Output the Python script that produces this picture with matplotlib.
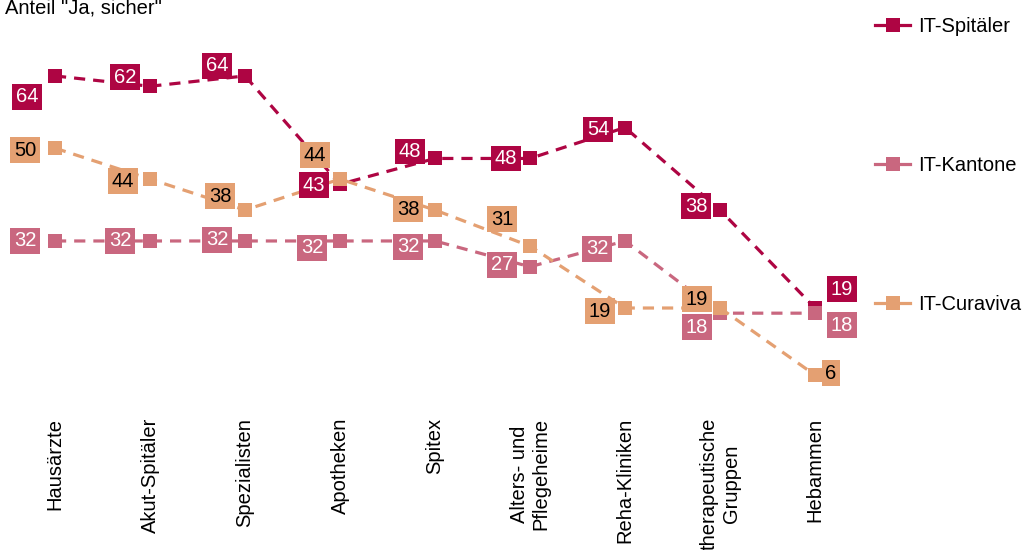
import matplotlib.pyplot as plt
from matplotlib.lines import Line2D

plt.rcParams['font.family'] = ['Liberation Sans', 'DejaVu Sans']

# Data
categories = ["Hausärzte", "Akut-Spitäler", "Spezialisten", "Apotheken", "Spitex",
              "Alters- und\nPflegeheime", "Reha-Kliniken", "therapeutische\nGruppen", "Hebammen"]
series_names = ["IT-Spitäler", "IT-Kantone", "IT-Curaviva"]
spitaeler = [64, 62, 64, 43, 48, 48, 54, 38, 19]
kantone = [32, 32, 32, 32, 32, 27, 32, 18, 18]
curaviva = [50, 44, 38, 44, 38, 31, 19, 19, 6]

COLORS = ["#AE0543", "#C9677F", "#E4A072"]
TEXT_COLORS = ["white", "white", "black"]
FONT = 14.5

# label offsets (pixels, dx, dy up) per series / category
offsets = [
    [(-28, -21), (-25, 9), (-28, 10), (-26, -1), (-25, 7), (-24, 0), (-27, -2), (-24, 4), (27, 19)],
    [(-30, 0), (-30, 0), (-28, 1), (-28, -7), (-27, -6), (-28, 2), (-28, -8), (-23, -14), (27, -12)],
    [(-30, -2), (-27, -2), (-25, 14), (-25, 24), (-27, 1), (-28, 27), (-25, -3), (-23, 9), (16, 2)],
]

fig = plt.figure(figsize=(10.27, 5.5), dpi=100)
ax = fig.add_axes([7.5 / 1027, 144 / 550, 855 / 1027, 361 / 550])

x = list(range(len(categories)))
for i, vals in enumerate([spitaeler, kantone, curaviva]):
    ax.plot(x, vals, color=COLORS[i], lw=2.3, dashes=(3.5, 2.5),
            marker="s", markersize=9.5, markeredgewidth=0, zorder=2 + i, clip_on=False)

for i, vals in enumerate([spitaeler, kantone, curaviva]):
    for j, v in enumerate(vals):
        dx, dy = offsets[i][j]
        ax.annotate(str(v), (j, v), xytext=(dx, dy), textcoords="offset pixels",
                    ha="center", va="center", fontsize=FONT, color=TEXT_COLORS[i],
                    bbox=dict(boxstyle="square,pad=0.17", fc=COLORS[i], ec="none"),
                    zorder=10, annotation_clip=False)

ax.set_xlim(-0.5, 8.5)
ax.set_ylim(0, 70)
ax.set_xticks(x)
ax.set_xticklabels(categories, rotation=90, fontsize=FONT, va="top", ha="center",
                   multialignment="center")
ax.tick_params(axis="x", length=0, pad=8.5)
ax.set_yticks([])
for s in ax.spines.values():
    s.set_visible(False)

fig.text(5 / 1027, 1 - 13 / 550, 'Anteil "Ja, sicher"', fontsize=FONT, va="baseline", ha="left")

leg_handles = [Line2D([0], [0], color=c, lw=2.3, marker="s", markersize=9.5, markeredgewidth=0)
               for c in COLORS]
fig.legend(leg_handles, series_names, loc="upper left", bbox_to_anchor=(875 / 1027, 1 - 17 / 550),
           frameon=False, fontsize=FONT, labelspacing=5.97, handlelength=1.74,
           handletextpad=0.4, borderpad=0, borderaxespad=0)

fig.savefig("out.png", dpi=100)
